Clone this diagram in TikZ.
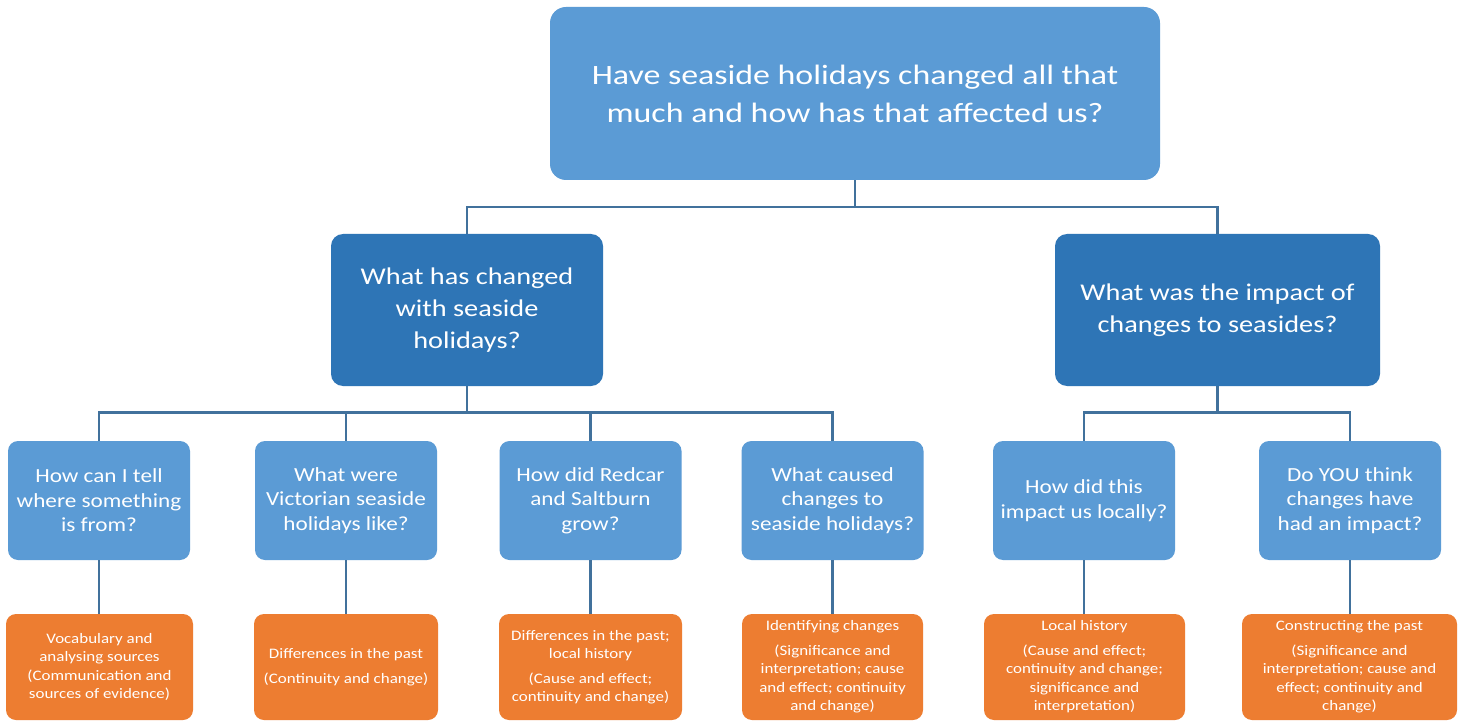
\documentclass[tikz,border=0pt]{standalone}
\usepackage{fontspec}
\setmainfont{Carlito}
\newfontfamily\fonttop[FakeStretch=1.21]{Carlito}
\newfontfamily\fontmid[FakeStretch=1.18]{Carlito}
\newfontfamily\fontq[FakeStretch=1.16]{Carlito}
\newfontfamily\fonto[FakeStretch=1.17]{Carlito}
\definecolor{lblue}{HTML}{5B9BD5}
\definecolor{dblue}{HTML}{2E75B6}
\definecolor{orng}{HTML}{ED7D31}
\definecolor{linec}{HTML}{41719C}
\begin{document}
\begin{tikzpicture}[x=1pt,y=-1pt,
  box/.style={rectangle,rounded corners=10pt,text=white,align=center,inner sep=2pt},
  topbox/.style={box,fill=lblue,rounded corners=16pt,minimum width=610pt,minimum height=173pt,font=\fonttop\fontsize{28}{38}\selectfont},
  midbox/.style={box,fill=dblue,rounded corners=12pt,minimum height=152pt,font=\fontmid\fontsize{24}{32}\selectfont},
  qbox/.style={box,fill=lblue,minimum width=182pt,minimum height=119pt,font=\fontq\fontsize{20}{24.5}\selectfont},
  obox/.style={box,fill=orng,minimum height=106pt,font=\fonto\fontsize{14.5}{18.5}\selectfont},
  conn/.style={draw=linec,line width=2.6pt}]
\useasboundingbox (0,0) rectangle (1467,722);
\fill[white] (0,0) rectangle (1467,722);

\node[topbox] (top) at (855,93.5) {Have seaside holidays changed all that\\much and how has that affected us?};

\node[midbox,minimum width=272pt] (ma) at (467,310) {What has changed\\with seaside\\holidays?};
\node[midbox,minimum width=325pt] (mb) at (1217.5,310) {What was the impact of\\changes to seasides?};

\node[qbox] (qa) at (99,500.5) {How can I tell\\where something\\is from?};
\node[qbox] (qb) at (346,500.5) {What were\\Victorian seaside\\holidays like?};
\node[qbox] (qc) at (590.5,500.5) {How did Redcar\\and Saltburn\\grow?};
\node[qbox] (qd) at (832.5,500.5) {What caused\\changes to\\seaside holidays?};
\node[qbox] (qe) at (1084,500.5) {How did this\\impact us locally?};
\node[qbox] (qf) at (1350,500.5) {Do YOU think\\changes have\\had an impact?};

\node[obox,minimum width=187pt] (oa) at (99.5,667) {Vocabulary and\\analysing sources\\(Communication and\\sources of evidence)};
\node[obox,minimum width=184pt] (ob) at (346,667) {Differences in the past\\[6pt](Continuity and change)};
\node[obox,minimum width=183pt] (oc) at (590.5,667) {Differences in the past;\\local history\\[6pt](Cause and effect;\\continuity and change)};
\node[obox,minimum width=181pt] (od) at (832.5,667) {Identifying changes\\[6pt](Significance and\\interpretation; cause\\and effect; continuity\\and change)};
\node[obox,minimum width=201pt] (oe) at (1084.5,667) {Local history\\[6pt](Cause and effect;\\continuity and change;\\significance and\\interpretation)};
\node[obox,minimum width=215pt] (of) at (1349.5,667) {Constructing the past\\[6pt](Significance and\\interpretation; cause and\\effect; continuity and\\change)};

\draw[conn] (top.south) -- ++(0,27) -| (ma.north);
\draw[conn] (top.south) -- ++(0,27) -| (mb.north);

\foreach \q in {qa,qb,qc,qd}
  \draw[conn] (ma.south) -- ++(0,26) -| (\q.north);
\foreach \q in {qe,qf}
  \draw[conn] (mb.south) -- ++(0,26) -| (\q.north);

\foreach \q/\o in {qa/oa,qb/ob,qc/oc,qd/od,qe/oe,qf/of}
  \draw[conn] (\q.south) -- (\q.south |- \o.north);
\end{tikzpicture}
\end{document}
